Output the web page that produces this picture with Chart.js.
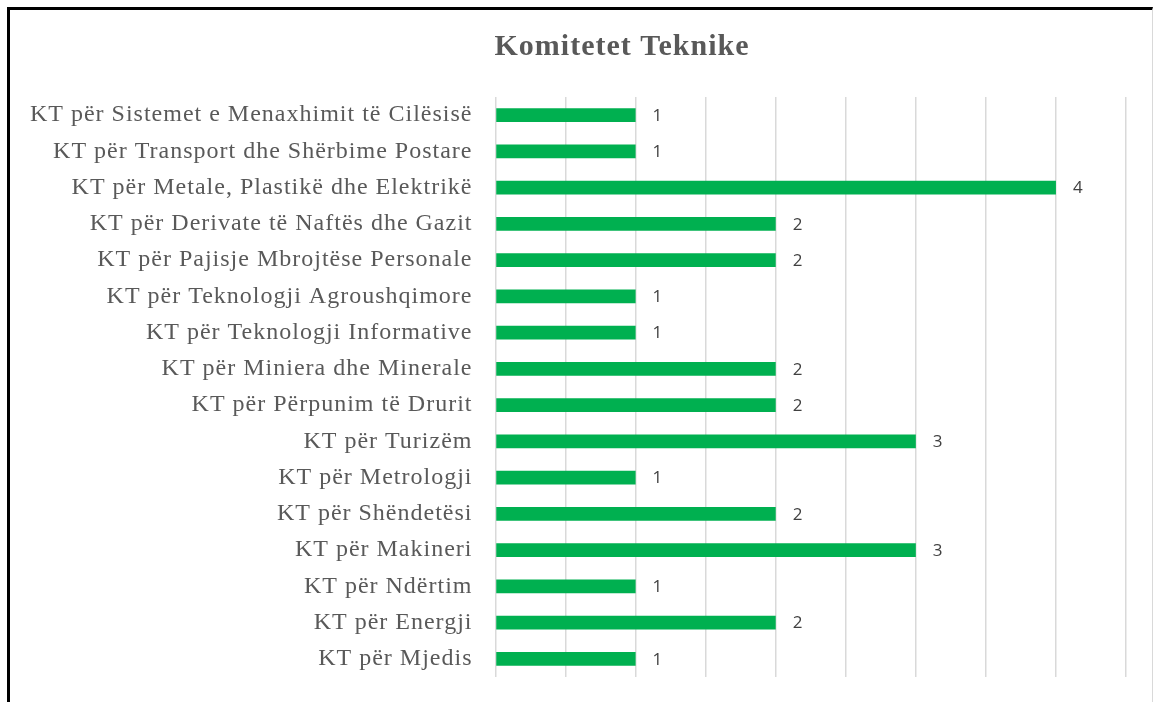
<!DOCTYPE html>
<html>
<head>
<meta charset="utf-8">
<script src="https://cdn.jsdelivr.net/npm/chart.js@4.4.0/dist/chart.umd.min.js"></script>
<style>
  html, body { margin: 0; padding: 0; background: #fff; }
  #frame {
    position: absolute; left: 7px; top: 7px; width: 1142px; height: 700px;
    border-left: 3px solid #000; border-top: 3px solid #000; border-right: 1px solid #d9d9d9;
  }
  #wrap { position: absolute; left: 0; top: 0; width: 1153px; height: 702px; }
</style>
</head>
<body>
<div id="frame"></div>
<div id="wrap"><canvas id="chart"></canvas></div>
<script>
// ---- data (top to bottom as shown) ----
const categories = [
    'KT për Sistemet e Menaxhimit të Cilësisë',
    'KT për Transport dhe Shërbime Postare',
    'KT për Metale, Plastikë dhe Elektrikë',
    'KT për Derivate të Naftës dhe Gazit',
    'KT për Pajisje Mbrojtëse Personale',
    'KT për Teknologji Agroushqimore',
    'KT për Teknologji Informative',
    'KT për Miniera dhe Minerale',
    'KT për Përpunim të Drurit',
    'KT për Turizëm',
    'KT për Metrologji',
    'KT për Shëndetësi',
    'KT për Makineri',
    'KT për Ndërtim',
    'KT për Energji',
    'KT për Mjedis'
];
const counts = [1, 1, 4, 2, 2, 1, 1, 2, 2, 3, 1, 2, 3, 1, 2, 1];
const titleText = 'Komitetet Teknike';

// the source text is a bit wider than Liberation Serif, spread the letters slightly
const letterSpread = {
    id: 'letterSpread',
    beforeDraw(chart) { chart.ctx.letterSpacing = '1px'; }
};

// title sits a little right of the page centre in the original
const offsetTitle = {
    id: 'offsetTitle',
    afterDraw(chart) {
        const ctx = chart.ctx;
        ctx.save();
        ctx.letterSpacing = '1px';
        ctx.font = 'bold 30px "Liberation Serif", "Times New Roman", serif';
        ctx.fillStyle = '#595959';
        ctx.textAlign = 'center';
        ctx.textBaseline = 'middle';
        ctx.fillText(titleText, 622, 47);
        ctx.restore();
    }
};

// value labels at the end of each bar
const barValueLabels = {
    id: 'barValueLabels',
    afterDatasetsDraw(chart) {
        const ctx = chart.ctx;
        const meta = chart.getDatasetMeta(0);
        ctx.save();
        ctx.letterSpacing = '0px';
        ctx.font = '17px "Open Sans", "Liberation Sans", sans-serif';
        ctx.fillStyle = '#404040';
        ctx.textBaseline = 'middle';
        ctx.textAlign = 'left';
        meta.data.forEach((bar, i) => {
            ctx.fillText(String(counts[i]), bar.x + 17, bar.y + 1);
        });
        ctx.restore();
    }
};

new Chart(document.getElementById('chart').getContext('2d'), {
    type: 'bar',
    data: {
        labels: categories,
        datasets: [{
            data: counts,
            backgroundColor: '#00b050',
            borderWidth: 0,
            barPercentage: 0.72,
            categoryPercentage: 0.52
        }]
    },
    options: {
        indexAxis: 'y',
        responsive: true,
        maintainAspectRatio: false,
        animation: false,
        layout: { padding: { left: 0, right: 27, top: 97, bottom: 25 } },
        plugins: {
            legend: { display: false },
            tooltip: { enabled: false },
            title: { display: false }
        },
        scales: {
            x: {
                min: 0,
                max: 4.5,
                ticks: { display: false, stepSize: 0.5 },
                grid: { color: '#d9d9d9', lineWidth: 1.5, drawTicks: false },
                border: { display: false },
                afterFit(scale) { scale.height = 0; }
            },
            y: {
                grid: { display: false },
                border: { display: false },
                ticks: {
                    color: '#595959',
                    padding: 15,
                    font: { family: '"Liberation Serif", "Times New Roman", serif', size: 24 }
                },
                afterFit(scale) {
                    scale.width = 495.5;
                    scale.paddingTop = 0;
                    scale.paddingBottom = 0;
                }
            }
        }
    },
    plugins: [letterSpread, barValueLabels, offsetTitle]
});
</script>
</body>
</html>
